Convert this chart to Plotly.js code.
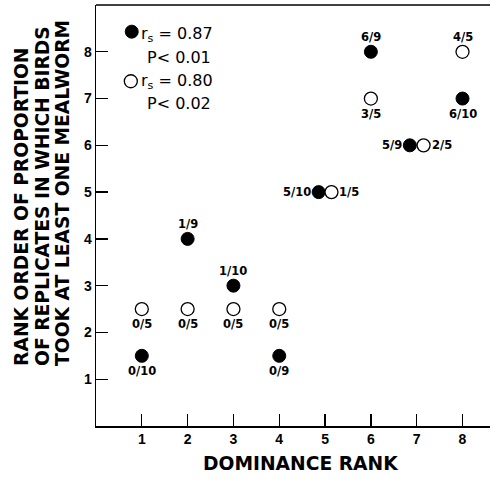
<!DOCTYPE html>
<html><head><meta charset="utf-8">
<script src="https://cdn.plot.ly/plotly-3.0.1.min.js"></script>
<style>html,body{margin:0;padding:0;background:#fff}#chart{width:503px;height:485px}</style>
</head><body><div id="chart"></div>
<script>
// Filled circles (r_s = 0.87)
const filledX = [1, 2, 3, 4, 4.86, 6, 6.85, 8];
const filledY = [1.5, 4, 3, 1.5, 5, 8, 6, 7];
const filledLabels = ['0/10', '1/9', '1/10', '0/9', '5/10', '6/9', '5/9', '6/10'];
const filledLabelPos = ['bottom', 'top', 'top', 'bottom', 'left', 'top', 'left', 'bottom'];
// Open circles (r_s = 0.80)
const openX = [1, 2, 3, 4, 5.14, 6, 7.15, 8];
const openY = [2.5, 2.5, 2.5, 2.5, 5, 7, 6, 8];
const openLabels = ['0/5', '0/5', '0/5', '0/5', '1/5', '3/5', '2/5', '4/5'];
const openLabelPos = ['bottom', 'bottom', 'bottom', 'bottom', 'right', 'bottom', 'right', 'top'];
// Legend
const legendR = ['r<sub>s</sub> = 0.87', 'r<sub>s</sub> = 0.80'];
const legendP = ['P< 0.01', 'P< 0.02'];
const legendX = [0.78, 0.76];
const legendY = [8.43, 7.37];
const legendRY = [8.415, 7.40];
const legendPY = [7.92, 6.93];
const xTicks = [1, 2, 3, 4, 5, 6, 7, 8];
const yTicks = [1, 2, 3, 4, 5, 6, 7, 8];
const xTitle = 'DOMINANCE RANK';
const yTitleLines = ['RANK ORDER OF PROPORTION', 'OF REPLICATES IN WHICH BIRDS', 'TOOK AT LEAST ONE MEALWORM'];

const FONT = 'Liberation Sans, Arial, sans-serif';
const DJ = 'DejaVu Sans, sans-serif';
const markerSize = 13;

function labelAnn(x, y, t, pos) {
  const a = {x: x, y: y, xref: 'x', yref: 'y', text: t, showarrow: false,
    font: {family: DJ, size: 11.5, color: '#000', weight: 'bold'}};
  if (pos === 'top') { a.yshift = 15; }
  else if (pos === 'bottom') { a.yshift = -15; }
  else if (pos === 'left') { a.xanchor = 'right'; a.xshift = -6; }
  else if (pos === 'right') { a.xanchor = 'left'; a.xshift = 6; }
  return a;
}

const anns = [];
filledX.forEach((x, i) => anns.push(labelAnn(x, filledY[i], filledLabels[i], filledLabelPos[i])));
openX.forEach((x, i) => anns.push(labelAnn(x, openY[i], openLabels[i], openLabelPos[i])));
legendR.forEach((t, i) => anns.push({x: 0.94, y: legendRY[i], xref: 'x', yref: 'y', text: t,
  showarrow: false, xanchor: 'left', yanchor: 'middle', align: 'left', yshift: -2,
  font: {family: DJ, size: 16, color: '#000'}}));
legendP.forEach((t, i) => anns.push({x: 1.07, y: legendPY[i], xref: 'x', yref: 'y', text: t,
  showarrow: false, xanchor: 'left', yanchor: 'middle', align: 'left', yshift: -2,
  font: {family: DJ, size: 16, color: '#000'}}));
// axis titles
anns.push({x: 0.52, y: -0.088, xref: 'paper', yref: 'paper', text: xTitle, showarrow: false,
  xanchor: 'center', yanchor: 'middle', font: {family: DJ, size: 18.7, weight: 'bold', color: '#000'}});
const yTitleX = [-0.188, -0.1345, -0.0838];
yTitleLines.forEach((t, i) => anns.push({x: yTitleX[i], y: 0.1378, xref: 'paper', yref: 'paper',
  text: t, showarrow: false, textangle: -90, xanchor: 'center', yanchor: 'bottom',
  font: {family: DJ, size: 18.7, weight: 'bold', color: '#000'}}));

const traces = [
  {x: filledX, y: filledY, mode: 'markers', type: 'scatter',
   marker: {size: markerSize, color: '#000', line: {color: '#000', width: 1}}, cliponaxis: false},
  {x: openX, y: openY, mode: 'markers', type: 'scatter',
   marker: {size: markerSize, color: '#fff', line: {color: '#000', width: 1.3}}, cliponaxis: false},
  {x: [legendX[0]], y: [legendY[0]], mode: 'markers', type: 'scatter',
   marker: {size: markerSize, color: '#000', line: {color: '#000', width: 1}}, cliponaxis: false},
  {x: [legendX[1]], y: [legendY[1]], mode: 'markers', type: 'scatter',
   marker: {size: markerSize, color: '#fff', line: {color: '#000', width: 1.3}}, cliponaxis: false}
];

const layout = {
  width: 503, height: 485,
  margin: {l: 96, r: 13, t: 5, b: 59},
  paper_bgcolor: '#fff', plot_bgcolor: '#fff',
  showlegend: false,
  font: {family: FONT, color: '#000'},
  xaxis: {range: [0, 8.6], tickvals: xTicks, ticktext: xTicks.map(String),
    showline: true, linecolor: '#000', linewidth: 1.5, showgrid: false, zeroline: false,
    ticks: 'inside', ticklen: 12, tickwidth: 1.3, tickcolor: '#000',
    tickfont: {family: FONT, size: 14, weight: 'bold'}},
  yaxis: {range: [0, 9], tickvals: yTicks, ticktext: yTicks.map(String),
    showline: true, linecolor: '#000', linewidth: 1.5, showgrid: false, zeroline: false,
    ticks: 'inside', ticklen: 12, tickwidth: 1.3, tickcolor: '#000',
    tickfont: {family: FONT, size: 14, weight: 'bold'}},
  shapes: [{type: 'line', xref: 'paper', yref: 'paper', x0: 0, x1: 1, y0: 1, y1: 1,
    line: {color: '#000', width: 1.5}}],
  annotations: anns
};

Plotly.newPlot('chart', traces, layout, {staticPlot: true});
</script>
</body></html>
